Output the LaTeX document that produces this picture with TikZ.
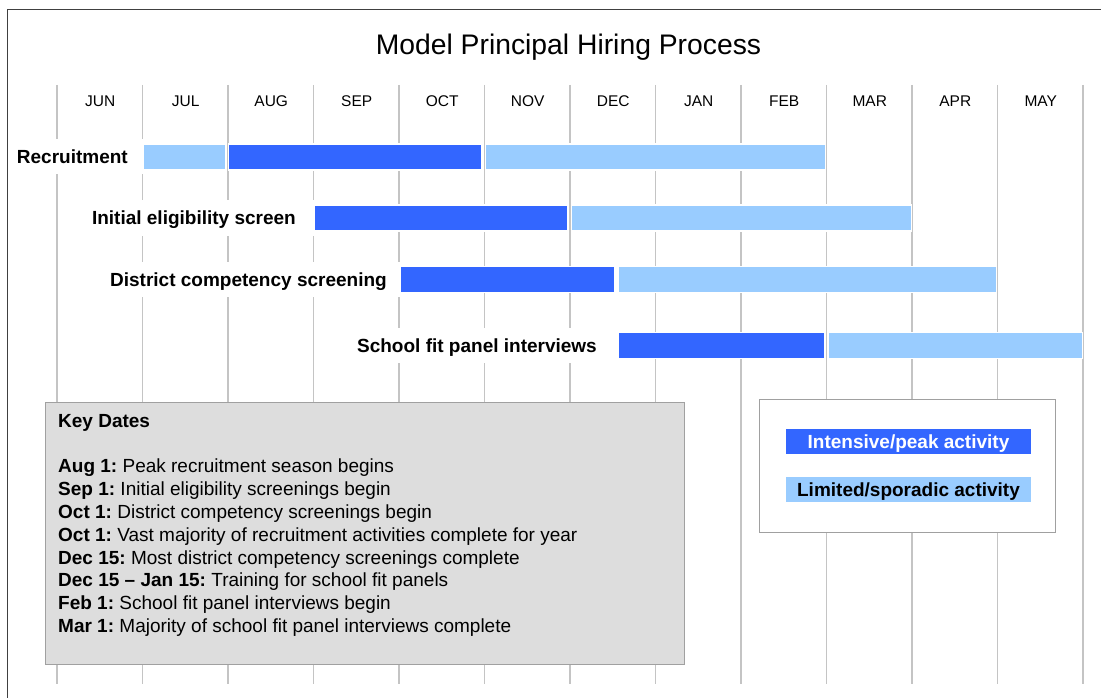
\documentclass[tikz,border=0pt]{standalone}
\usepackage{fontspec}
\setmainfont{Liberation Sans}
\frenchspacing
\definecolor{darkblue}{HTML}{3366FF}
\definecolor{lightblue}{HTML}{99CCFF}
\definecolor{gridc}{HTML}{C4C4C4}
\definecolor{keyfill}{HTML}{DDDDDD}
\definecolor{boxline}{HTML}{A0A0A0}
\definecolor{framec}{HTML}{404040}
\begin{document}
\begin{tikzpicture}[x=1pt,y=-1pt,
  gridline/.style={draw=gridc, line width=1.5pt},
  barbox/.style={rectangle, inner sep=0pt, minimum height=26pt, anchor=west, draw=white, line width=1.2pt},
  darkbar/.style={barbox, fill=darkblue},
  lightbar/.style={barbox, fill=lightblue},
  bigtext/.style={font=\fontsize{19}{22.8}\selectfont},
  rowlabel/.style={anchor=east, fill=white, inner xsep=3pt, inner ysep=0pt, minimum height=35pt, text height=13.6pt, text depth=0pt, font=\fontsize{19}{22.8}\selectfont\bfseries},
  month/.style={font=\fontsize{15.5}{18}\selectfont, text height=11.1pt, text depth=0pt, inner sep=0pt},
  keyline/.style={bigtext, anchor=base west, inner sep=0pt},
  swatch/.style={minimum width=245pt, minimum height=25pt, inner sep=0pt, text height=13.6pt, text depth=0pt, font=\fontsize{19}{22.8}\selectfont\bfseries},
  panel/.style={draw=boxline, line width=1pt, anchor=north west, inner sep=0pt}
]
\useasboundingbox (0,0) rectangle (1101,698);
% frame
\draw[framec, line width=1.3pt] (7.5,698) -- (7.5,9.5) -- (1101,9.5);
% grid
\foreach \i in {0,...,12} \draw[gridline] (57+85.5*\i,85) -- (57+85.5*\i,684);
% title
\node[font=\fontsize{28.3}{34}\selectfont, anchor=base, inner sep=0pt] (title) at (568.5,55) {Model Principal Hiring Process};
% months
\foreach \m [count=\i from 0] in {JUN,JUL,AUG,SEP,OCT,NOV,DEC,JAN,FEB,MAR,APR,MAY}
  \node[month] (m\i) at (100.25+85.5*\i,101) {\m};
% row 1
\node[rowlabel] (l1) at (143,157) {Recruitment\kern12pt};
\node[lightbar, minimum width=82pt] (r1a) at (143,157) {};
\node[darkbar, minimum width=253pt] (r1b) at (228,157) {};
\node[lightbar, minimum width=340pt] (r1c) at (485,157) {};
% row 2
\node[rowlabel] (l2) at (314,218) {Initial eligibility screen\kern15pt};
\node[darkbar, minimum width=253pt] (r2a) at (314,218) {};
\node[lightbar, minimum width=340pt] (r2b) at (571,218) {};
% row 3
\node[rowlabel] (l3) at (400,279.5) {District competency screening\kern10pt};
\node[darkbar, minimum width=214pt] (r3a) at (400,279.5) {};
\node[lightbar, minimum width=378pt] (r3b) at (618,279.5) {};
% row 4
\node[rowlabel] (l4) at (618,345.5) {School fit panel interviews\kern18pt};
\node[darkbar, minimum width=206pt] (r4a) at (618,345.5) {};
\node[lightbar, minimum width=254pt] (r4b) at (828,345.5) {};
% key dates
\node[panel, fill=keyfill, minimum width=639pt, minimum height=262pt] (keybox) at (45,402) {};
\node[keyline] (k0) at (58,427.8) {\textbf{Key Dates}};
\node[keyline] (k1) at (58,472.8) {\textbf{Aug 1:} Peak recruitment season begins};
\node[keyline] (k2) at (58,495.6) {\textbf{Sep 1:} Initial eligibility screenings begin};
\node[keyline] (k3) at (58,518.4) {\textbf{Oct 1:} District competency screenings begin};
\node[keyline] (k4) at (58,541.2) {\textbf{Oct 1:} Vast majority of recruitment activities complete for year};
\node[keyline] (k5) at (58,564.0) {\textbf{Dec 15:} Most district competency screenings complete};
\node[keyline] (k6) at (58,586.8) {\textbf{Dec 15 – Jan 15:} Training for school fit panels};
\node[keyline] (k7) at (58,609.6) {\textbf{Feb 1:} School fit panel interviews begin};
\node[keyline] (k8) at (58,632.4) {\textbf{Mar 1:} Majority of school fit panel interviews complete};
% legend
\node[panel, fill=white, minimum width=296pt, minimum height=133pt] (legend) at (759,399) {};
\node[swatch, fill=darkblue, text=white] (legdark) at (908.5,441.5) {Intensive/peak activity};
\node[swatch, fill=lightblue, text=black] (leglight) at (908.5,489.5) {Limited/sporadic activity};
\end{tikzpicture}
\end{document}
